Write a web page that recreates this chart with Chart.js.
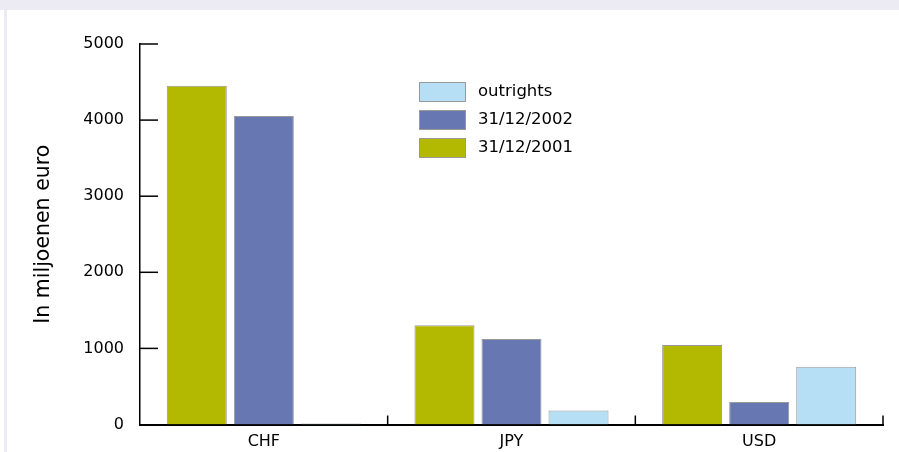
<!DOCTYPE html>
<html>
<head>
<meta charset="utf-8">
<script src="https://cdn.jsdelivr.net/npm/chart.js@4"></script>
<style>
  html, body { margin: 0; padding: 0; background: #fff; }
  #wrap { position: relative; width: 899px; height: 452px; overflow: hidden; }
  #topband { position: absolute; left: 0; top: 0; width: 899px; height: 10px; background: #ecebf4; }
  #leftband { position: absolute; left: 4px; top: 10px; width: 3px; height: 442px; background: #ecebf4; }
  #chart { position: absolute; left: 0; top: 0; }
</style>
</head>
<body>
<div id="wrap">
  <div id="topband"></div>
  <div id="leftband"></div>
  <canvas id="chart" width="899" height="452"></canvas>
</div>
<script>
const categories = ['CHF', 'JPY', 'USD'];
const seriesLabels = ['31/12/2001', '31/12/2002', 'outrights'];
const values2001 = [4450, 1305, 1045];
const values2002 = [4055, 1125, 295];
const valuesOutrights = [12, 185, 758];
const yTicks = [0, 1000, 2000, 3000, 4000, 5000];

const colors = ['#b3b800', '#6677b2', '#b6def5'];
const font = "'DejaVu Sans', sans-serif";

// ticks in this chart point inwards, so draw them ourselves
const inwardTicks = {
  id: 'inwardTicks',
  afterDraw(chart) {
    const ctx = chart.ctx;
    const x = chart.scales.x, y = chart.scales.y;
    ctx.save();
    ctx.strokeStyle = '#000';
    ctx.lineWidth = 1.5;
    yTicks.forEach(v => {
      if (v === 0) return;
      const py = y.getPixelForValue(v);
      ctx.beginPath();
      ctx.moveTo(y.right, py);
      ctx.lineTo(y.right + 18, py);
      ctx.stroke();
    });
    for (let i = 0; i < categories.length; i++) {
      const px = i < categories.length - 1
        ? (x.getPixelForValue(i) + x.getPixelForValue(i + 1)) / 2
        : chart.chartArea.right;
      ctx.beginPath();
      ctx.moveTo(px, x.top);
      ctx.lineTo(px, x.top - 9);
      ctx.stroke();
    }
    ctx.restore();
  }
};

// legend sits inside the plot, newest entry on top
const boxLegend = {
  id: 'boxLegend',
  afterDraw(chart) {
    const ctx = chart.ctx;
    const sets = chart.data.datasets.slice().reverse();
    ctx.save();
    ctx.font = '16.5px ' + font;
    ctx.textBaseline = 'middle';
    sets.forEach((ds, i) => {
      const top = 82 + i * 28;
      ctx.fillStyle = ds.backgroundColor;
      ctx.fillRect(419, top, 47, 20);
      ctx.strokeStyle = '#999';
      ctx.lineWidth = 1;
      ctx.strokeRect(419.5, top + 0.5, 46, 19);
      ctx.fillStyle = '#000';
      ctx.fillText(ds.label, 478, top + 10);
    });
    ctx.restore();
  }
};

const data = {
  labels: categories,
  datasets: [values2001, values2002, valuesOutrights].map((vals, i) => ({
    label: seriesLabels[i],
    data: vals,
    backgroundColor: colors[i],
    borderColor: '#999',
    borderWidth: 1,
    categoryPercentage: 0.812,
    barPercentage: 0.895
  }))
};

new Chart(document.getElementById('chart'), {
  type: 'bar',
  data: data,
  options: {
    responsive: false,
    animation: false,
    layout: { padding: { top: 44, right: 16, left: 0, bottom: 0 } },
    plugins: { legend: { display: false }, tooltip: { enabled: false } },
    scales: {
      x: {
        grid: { display: false, drawTicks: false },
        border: { display: true, color: '#000', width: 2 },
        ticks: { color: '#000', padding: 8, font: { family: font, size: 16 } },
        afterFit(s) { s.height = 27.5; }
      },
      y: {
        min: 0, max: 5000,
        afterBuildTicks(s) { s.ticks = yTicks.map(v => ({ value: v })); },
        grid: { display: false, drawTicks: false },
        border: { display: true, color: '#000', width: 1.5 },
        ticks: {
          color: '#000', padding: 16, font: { family: font, size: 16 },
          callback: v => String(v)
        },
        title: {
          display: true,
          text: 'In miljoenen euro',
          color: '#000',
          font: { family: font, size: 20.5 },
          padding: { top: 31, bottom: 0 }
        },
        afterFit(s) { s.width = 140; }
      }
    }
  },
  plugins: [inwardTicks, boxLegend]
});
</script>
</body>
</html>
